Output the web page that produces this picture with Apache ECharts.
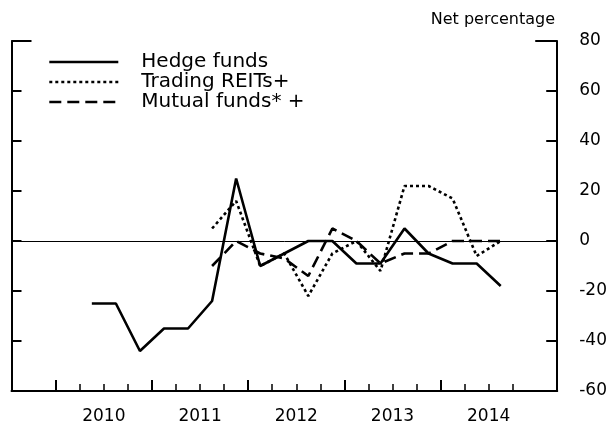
<!DOCTYPE html>
<html>
<head>
<meta charset="utf-8">
<script src="https://cdn.jsdelivr.net/npm/echarts@6/dist/echarts.min.js"></script>
<style>
  html, body { margin: 0; padding: 0; background: #fff; }
  #chart { width: 610px; height: 425px; }
</style>
</head>
<body>
<div id="chart"></div>
<script>
// quarters as 'YYYY Qn', values are net percentages
var years = [2010, 2011, 2012, 2013, 2014];
var yTicks = [-60, -40, -20, 0, 20, 40, 60, 80];

var hedgeQuarters = ['2010 Q2', '2010 Q3', '2010 Q4',
    '2011 Q1', '2011 Q2', '2011 Q3', '2011 Q4',
    '2012 Q1', '2012 Q2', '2012 Q3', '2012 Q4',
    '2013 Q1', '2013 Q2', '2013 Q3', '2013 Q4',
    '2014 Q1', '2014 Q2', '2014 Q3'];
var hedgeFunds = [-25, -25, -44, -35, -35, -24, 25, -10, -5, 0, 0, -9, -9, 5, -5, -9, -9, -18];

var otherQuarters = ['2011 Q3', '2011 Q4',
    '2012 Q1', '2012 Q2', '2012 Q3', '2012 Q4',
    '2013 Q1', '2013 Q2', '2013 Q3', '2013 Q4',
    '2014 Q1', '2014 Q2', '2014 Q3'];
var tradingReits = [5, 16, -10, -5, -22, -5, 0, -12, 22, 22, 17, -6, 0];
var mutualFunds = [-10, 0, -5, -7, -14, 5, 0, -9, -5, -5, 0, 0, 0];

// quarter label -> decimal year at the middle of the quarter
function qx(label) {
    var p = label.split(' Q');
    return +p[0] + (+p[1] - 0.5) / 4;
}
function pairs(quarters, values) {
    return quarters.map(function (q, i) { return [qx(q), values[i]]; });
}

var yearTicks = years.slice();
var quarterTicks = [];
var labelPos = [];
years.forEach(function (y) {
    quarterTicks.push(y + 0.25, y + 0.5, y + 0.75);
    labelPos.push(y + 0.5);
});

var font = 'DejaVu Sans';
var xMin = 2009.54, xMax = 2015.2125;

var myChart = echarts.init(document.getElementById('chart'));
myChart.setOption({
    animation: false,
    title: {
        text: 'Net percentage',
        right: 50,
        top: 7,
        textStyle: { fontFamily: font, fontSize: 16, fontWeight: 'normal', color: '#000' }
    },
    legend: {
        orient: 'vertical',
        left: 43,
        top: 47,
        itemWidth: 69,
        itemHeight: 14,
        itemGap: 0,
        itemStyle: { opacity: 0 },
        lineStyle: { width: 2.6 },
        textStyle: { fontFamily: font, fontSize: 20, color: '#000', lineHeight: 20, padding: [0, 0, 0, 18] },
        data: ['Hedge funds', 'Trading REITs+', 'Mutual funds* +']
    },
    grid: { left: 11.5, right: 51, top: 41, bottom: 32 },
    xAxis: [
        {
            type: 'value',
            min: xMin,
            max: xMax,
            position: 'bottom',
            splitLine: { show: false },
            axisLine: { show: true, onZero: false, lineStyle: { color: '#000', width: 2 } },
            axisTick: { show: true, inside: true, length: 7, customValues: quarterTicks, lineStyle: { color: '#000', width: 1.5 } },
            axisLabel: {
                customValues: labelPos,
                margin: 17,
                fontFamily: font,
                fontSize: 17,
                color: '#000',
                formatter: function (v) { return String(Math.floor(v)); }
            }
        },
        {
            type: 'value',
            min: xMin,
            max: xMax,
            position: 'bottom',
            splitLine: { show: false },
            axisLine: { show: false, onZero: false },
            axisTick: { show: true, inside: true, length: 11, customValues: yearTicks, lineStyle: { color: '#000', width: 2 } },
            axisLabel: { show: false }
        }
    ],
    yAxis: [
        {
            type: 'value',
            min: -60,
            max: 80,
            interval: 20,
            position: 'right',
            splitLine: { show: false },
            axisLine: { show: true, lineStyle: { color: '#000', width: 2 } },
            axisTick: { show: true, inside: true, length: 11, lineStyle: { color: '#000', width: 2 } },
            axisLabel: { margin: 22, fontFamily: font, fontSize: 17, color: '#000', customValues: yTicks }
        },
        {
            type: 'value',
            min: -60,
            max: 80,
            interval: 20,
            position: 'left',
            splitLine: { show: false },
            axisLine: { show: true, lineStyle: { color: '#000', width: 2 } },
            axisTick: { show: true, inside: true, length: 10, lineStyle: { color: '#000', width: 2 } },
            axisLabel: { show: false }
        },
        {
            type: 'value',
            min: -60,
            max: 80,
            position: 'right',
            splitLine: { show: false },
            axisLine: { show: false },
            axisTick: { show: true, inside: true, length: 22, customValues: [80], lineStyle: { color: '#000', width: 2 } },
            axisLabel: { show: false }
        },
        {
            type: 'value',
            min: -60,
            max: 80,
            position: 'left',
            splitLine: { show: false },
            axisLine: { show: false },
            axisTick: { show: true, inside: true, length: 20, customValues: [80], lineStyle: { color: '#000', width: 2 } },
            axisLabel: { show: false }
        }
    ],
    series: [
        {
            name: 'Hedge funds',
            type: 'line',
            symbol: 'none',
            data: pairs(hedgeQuarters, hedgeFunds),
            lineStyle: { color: '#000', width: 2.6, type: 'solid' },
            itemStyle: { color: '#000' },
            markLine: {
                silent: true,
                symbol: 'none',
                label: { show: false },
                lineStyle: { color: '#000', width: 1, type: 'solid' },
                data: [{ yAxis: 0 }]
            }
        },
        {
            name: 'Trading REITs+',
            type: 'line',
            symbol: 'none',
            data: pairs(otherQuarters, tradingReits),
            lineStyle: { color: '#000', width: 2.6, type: [3, 3] },
            itemStyle: { color: '#000' }
        },
        {
            name: 'Mutual funds* +',
            type: 'line',
            symbol: 'none',
            data: pairs(otherQuarters, mutualFunds),
            lineStyle: { color: '#000', width: 2.6, type: [12, 6] },
            itemStyle: { color: '#000' }
        }
    ]
});
</script>
</body>
</html>
